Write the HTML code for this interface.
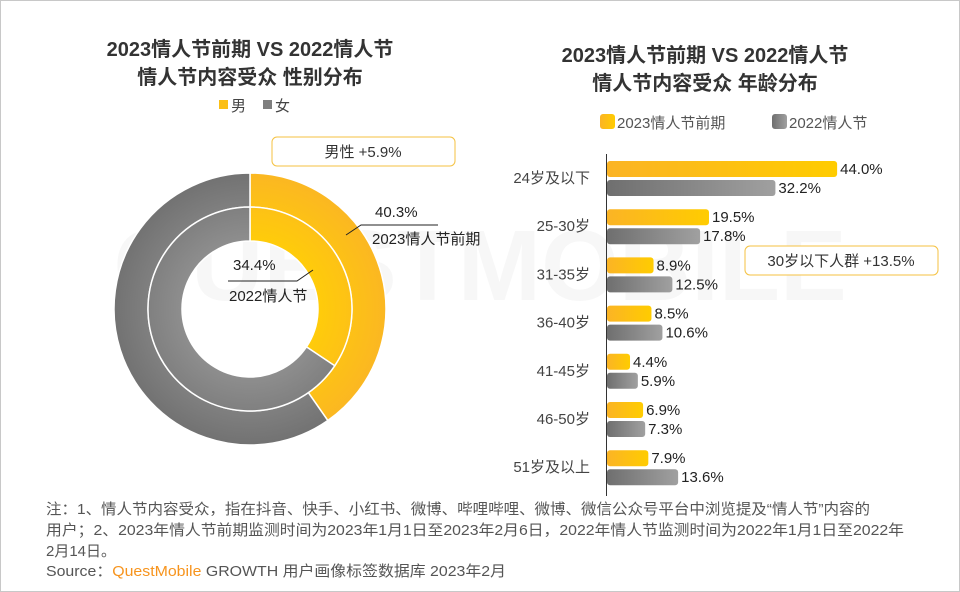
<!DOCTYPE html>
<html><head><meta charset="utf-8">
<style>
html,body{margin:0;padding:0;background:#fff;}
svg{display:block;font-family:"Liberation Sans","Noto Sans CJK SC",sans-serif;}
</style></head>
<body>
<svg id="chart" width="960" height="592" viewBox="0 0 960 592">
<defs>
<linearGradient id="gy" x1="0" x2="1" y1="0" y2="0"><stop offset="0" stop-color="#fbb425"/><stop offset="1" stop-color="#ffcc00"/></linearGradient>
<linearGradient id="gg" x1="0" x2="1" y1="0" y2="0"><stop offset="0" stop-color="#6f6f6f"/><stop offset="1" stop-color="#a0a0a0"/></linearGradient>
<radialGradient id="ry" cx="250" cy="309" r="136" gradientUnits="userSpaceOnUse"><stop offset="0.5" stop-color="#ffcc0a"/><stop offset="1" stop-color="#fbb722"/></radialGradient>
<radialGradient id="rg" cx="250" cy="309" r="136" gradientUnits="userSpaceOnUse"><stop offset="0.5" stop-color="#8e8e8e"/><stop offset="1" stop-color="#727272"/></radialGradient>
</defs>
<rect x="0.5" y="0.5" width="959" height="591" fill="#fff" stroke="#c8c8c8"/>
<text x="480" y="300" font-size="100" font-weight="bold" fill="#f7f7f7" text-anchor="middle">QUESTMOBILE</text>

<g font-size="20" font-weight="bold" fill="#333" text-anchor="middle">
<text x="250" y="56">2023情人节前期 VS 2022情人节</text>
<text x="250" y="84">情人节内容受众 性别分布</text>
</g>
<g font-size="15" fill="#444">
<rect x="219" y="100" width="9" height="9" fill="#fbbf16"/>
<text x="231" y="111">男</text>
<rect x="263" y="100" width="9" height="9" fill="#7f7f7f"/>
<text x="275" y="111">女</text>
</g>
<rect x="272" y="137" width="183" height="29" rx="5" fill="#fff" stroke="#f5c242"/>
<text x="363" y="157" font-size="15" fill="#333" text-anchor="middle">男性 +5.9%</text>
<g id="donut"></g>
<g font-size="15" fill="#222">
<text x="375" y="217">40.3%</text>
<polyline points="346,235 361,225 438,225" fill="none" stroke="#222" stroke-width="1"/>
<text x="372" y="244">2023情人节前期</text>
<text x="233" y="270">34.4%</text>
<polyline points="228,281 297,281 313,270" fill="none" stroke="#222" stroke-width="1"/>
<text x="229" y="301">2022情人节</text>
</g>

<g font-size="20" font-weight="bold" fill="#333" text-anchor="middle">
<text x="705" y="62">2023情人节前期 VS 2022情人节</text>
<text x="705" y="90">情人节内容受众 年龄分布</text>
</g>
<g font-size="15" fill="#555">
<rect x="600" y="114" width="15" height="15" rx="3" fill="url(#gy)"/>
<text x="617" y="128">2023情人节前期</text>
<rect x="772" y="114" width="15" height="15" rx="3" fill="url(#gg)"/>
<text x="789" y="128">2022情人节</text>
</g>
<line x1="606.5" y1="154" x2="606.5" y2="496" stroke="#333"/>
<g id="bars"></g>
<rect x="745" y="246" width="193" height="29" rx="5" fill="#fff" stroke="#f5c242"/>
<text x="841" y="266" font-size="15" fill="#333" text-anchor="middle">30岁以下人群 +13.5%</text>

<g font-size="15" fill="#555">
<text x="46" y="514" textLength="824" lengthAdjust="spacingAndGlyphs">注：1、情人节内容受众，指在抖音、快手、小红书、微博、哔哩哔哩、微博、微信公众号平台中浏览提及“情人节”内容的</text>
<text x="46" y="535" textLength="858" lengthAdjust="spacingAndGlyphs">用户；2、2023年情人节前期监测时间为2023年1月1日至2023年2月6日，2022年情人节监测时间为2022年1月1日至2022年</text>
<text x="46" y="556">2月14日。</text>
<text x="46" y="576" textLength="460" lengthAdjust="spacingAndGlyphs">Source：<tspan fill="#f7941d">QuestMobile</tspan> GROWTH 用户画像标签数据库 2023年2月</text>
</g>
</svg>
<script>
const genderSeries = ['2023情人节前期', '2022情人节'];
const maleShare = [40.3, 34.4];
const ageCategories = ['24岁及以下', '25-30岁', '31-35岁', '36-40岁', '41-45岁', '46-50岁', '51岁及以上'];
const values2023 = [44.0, 19.5, 8.9, 8.5, 4.4, 6.9, 7.9];
const values2022 = [32.2, 17.8, 12.5, 10.6, 5.9, 7.3, 13.6];

const NS = 'http://www.w3.org/2000/svg';
function mk(tag, attrs, parent){const e=document.createElementNS(NS,tag);for(const k in attrs)e.setAttribute(k,attrs[k]);parent.appendChild(e);return e;}

const cx=250, cy=309;
const rings=[[102,136],[68,102]];
function arc(r0,r1,a0,a1){
  const p=(r,a)=>[cx+r*Math.sin(a),cy-r*Math.cos(a)];
  const large=(a1-a0)>Math.PI?1:0;
  const [x1,y1]=p(r1,a0),[x2,y2]=p(r1,a1),[x3,y3]=p(r0,a1),[x4,y4]=p(r0,a0);
  return `M${x1},${y1}A${r1},${r1} 0 ${large} 1 ${x2},${y2}L${x3},${y3}A${r0},${r0} 0 ${large} 0 ${x4},${y4}Z`;
}
const donut=document.getElementById('donut');
maleShare.forEach((v,i)=>{
  const [r0,r1]=rings[i];
  const a=v/100*2*Math.PI;
  const m=mk('path',{d:arc(r0,r1,0,a),fill:'url(#ry)',stroke:'#fff','stroke-width':1.5},donut);
  
  
  const f=mk('path',{d:arc(r0,r1,a,2*Math.PI-0.0001),fill:'url(#rg)',stroke:'#fff','stroke-width':1.5},donut);
  
  
});

const x0=607, pxPer=5.23, groupTop=178, pitch=48.2, bh=16;
const xs=v=>v*pxPer;
const bars=document.getElementById('bars');
ageCategories.forEach((c,i)=>{
  const yc=groupTop+i*pitch;
  const lab=mk('text',{x:590,y:yc+5,'font-size':15,fill:'#444','text-anchor':'end'},bars);
  lab.textContent=c;
  
  
  [[values2023[i],'url(#gy)',yc-17,'2023'],[values2022[i],'url(#gg)',yc+2,'2022']].forEach(([v,fill,y,s])=>{
    const w=xs(v);
    const b=mk('rect',{x:x0,y:y,width:w,height:bh,rx:3,fill:fill},bars);
    
    
    const t=mk('text',{x:x0+w+3,y:y+13,'font-size':15,fill:'#222'},bars);
    t.textContent=v.toFixed(1)+'%';
    
    
  });
});
</script>
</body></html>
